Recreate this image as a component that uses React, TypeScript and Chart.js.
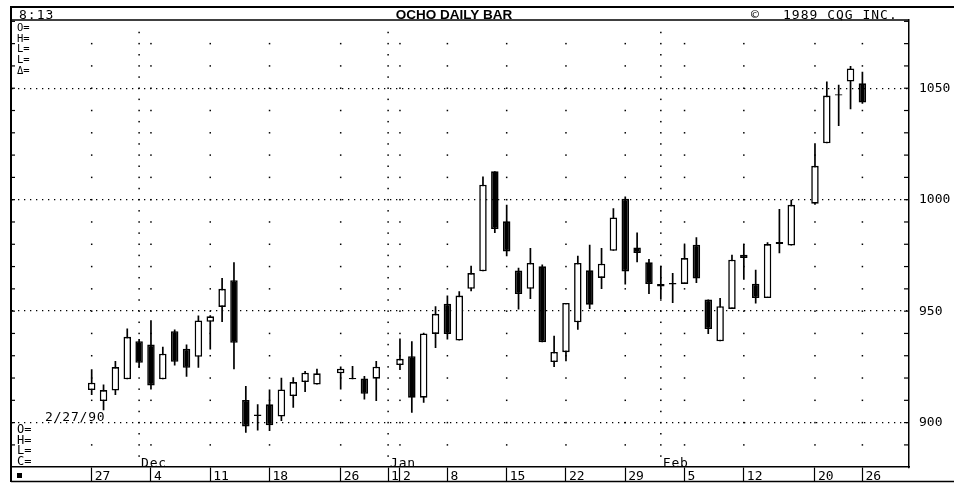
import React, { useEffect, useRef } from 'react';
import { Chart, registerables } from 'chart.js';
Chart.register(...registerables);

// trading-day slot index (0 = Nov 27; holidays 20, 25, 60 are empty slots)
const dayIndex = [0,1,2,3,4,5,6,7,8,9,10,11,12,13,14,15,16,17,18,19,21,22,23,24,26,27,28,29,30,31,32,33,34,35,36,37,38,39,40,41,42,43,44,45,46,47,48,49,50,51,52,53,54,55,56,57,58,59,61,62,63,64,65];
const openVals = [914.6,909.7,914.4,919.4,936.5,935.0,919.4,941.0,933.1,929.5,945.2,951.9,963.9,910.1,903.0,908.2,902.7,911.9,918.2,917.1,922.1,920.0,919.8,919.7,925.8,929.8,911.2,939.8,953.3,936.8,960.0,967.9,1012.7,990.3,968.2,960.0,970.1,927.2,931.6,945.0,968.3,964.9,977.1,1000.4,978.6,971.9,962.2,962.6,962.2,979.8,955.2,936.5,951.0,975.3,962.3,955.9,980.1,979.4,998.2,1025.3,1047.3,1053.0,1052.2];
const highVals = [923.9,917.1,927.6,942.2,937.5,945.9,934.0,941.8,935.0,948.0,948.2,964.9,971.9,916.4,908.2,914.9,920.1,920.4,923.1,924.2,925.2,925.4,920.9,927.6,937.7,936.5,940.3,952.2,957.0,958.9,970.4,1010.4,1012.7,997.7,969.5,978.3,970.9,939.0,953.7,974.9,979.8,978.3,996.2,1001.4,985.3,973.4,970.4,967.1,979.8,983.2,955.2,955.9,975.3,980.1,968.6,980.9,995.8,1000.0,1025.3,1053.0,1051.5,1060.0,1057.4];
const lowVals = [912.4,905.6,912.4,919.4,924.6,914.9,919.4,925.6,920.6,924.6,932.8,945.1,923.9,895.5,896.5,896.2,900.7,906.7,913.7,917.1,914.9,919.4,910.4,909.7,923.6,904.4,908.9,933.5,937.3,936.8,958.9,967.9,985.1,974.6,950.7,955.5,936.1,924.9,927.5,941.7,951.0,959.9,977.1,961.9,971.9,957.7,955.5,953.7,962.2,962.6,939.8,936.5,951.0,964.1,953.4,955.9,976.0,979.4,997.7,1025.3,1033.1,1040.6,1043.0];
const closeVals = [917.9,914.6,924.9,938.5,926.8,916.7,930.9,927.3,924.6,945.8,947.7,960.0,935.8,898.3,903.6,898.8,914.9,918.2,922.4,922.1,924.2,919.4,912.9,925.1,928.6,911.2,940.0,948.8,939.8,957.0,967.1,1006.7,986.8,976.8,957.7,971.6,936.1,931.7,953.7,971.6,952.9,971.3,992.0,967.8,976.1,962.2,961.1,962.0,973.8,964.6,942.0,952.2,973.1,973.8,955.9,980.1,981.0,997.7,1015.2,1046.7,1046.7,1058.9,1043.6];

const dateTickIndex = [0,5,10,15,21,25,26,30,35,40,45,50,55,61,65];
const dateTickLabels = ['27','4','11','18','26','1','2','8','15','22','29','5','12','20','26'];
const weekColumnIndex = [0,5,10,15,21,26,30,35,40,45,50,55,61,65];
const monthIndex = [4,25,48];
const monthLabels = ['Dec','Jan','Feb'];
const priceLabels = [900,950,1000,1050];
const topLegend = ['O=','H=','L=','L=','Δ='];
const bottomLegend = ['O=','H=','L=','C='];

const MONO = "'DejaVu Sans Mono', monospace";

const decor = {
  id: 'decor',
  beforeDatasetsDraw(chart: any) {
    const { ctx, chartArea: ca, scales: { x, y } } = chart;
    ctx.save();
    ctx.fillStyle = '#000';
    for (const i of weekColumnIndex) {
      const px = x.getPixelForValue(i);
      for (let v = 890; v <= 1080; v += 10) {
        const py = y.getPixelForValue(v);
        if (py < ca.top + 3) continue;
        ctx.fillRect(px - 0.75, py - 0.75, 1.5, 1.5);
      }
    }
    for (const i of monthIndex) {
      const px = x.getPixelForValue(i);
      for (let v = 885; v <= 1080; v += 5) {
        const py = y.getPixelForValue(v);
        if (py < ca.top + 3) continue;
        ctx.fillRect(px - 0.75, py - 0.75, 1.5, 1.5);
      }
    }
    ctx.restore();
  },
  afterDraw(chart: any) {
    const { ctx, chartArea: ca, scales: { x, y } } = chart;
    const W = chart.width;
    ctx.save();
    ctx.strokeStyle = '#000';
    ctx.fillStyle = '#000';
    const line = (x1: number, y1: number, x2: number, y2: number, w: number) => {
      ctx.lineWidth = w;
      ctx.beginPath();
      ctx.moveTo(x1, y1);
      ctx.lineTo(x2, y2);
      ctx.stroke();
    };
    line(10, 7, W, 7, 2);
    line(11, ca.top, ca.right, ca.top, 1.5);
    line(11, 7, 11, 482, 2);
    line(11, 481.5, W, 481.5, 1.5);
    for (let v = 890; v <= 1080; v += 10) {
      const py = y.getPixelForValue(v);
      line(ca.right - 5, py, ca.right, py, 1.2);
      line(12, py, 15, py, 1.2);
    }
    // header texts
    ctx.textBaseline = 'alphabetic';
    ctx.textAlign = 'left';
    ctx.font = `13px ${MONO}`;
    (ctx as any).letterSpacing = '1px';
    ctx.fillText('8:13', 19, 19);
    ctx.fillText('©', 751, 19);
    ctx.fillText('1989 CQG INC.', 783, 19);
    (ctx as any).letterSpacing = '0px';
    ctx.font = "bold 13.5px 'Liberation Sans', Arial, sans-serif";
    ctx.textAlign = 'center';
    ctx.fillText('OCHO DAILY BAR', 454, 18.5);
    // legends
    ctx.textAlign = 'left';
    ctx.textBaseline = 'middle';
    ctx.font = `10.5px ${MONO}`;
    topLegend.forEach((t, i) => ctx.fillText(t, 17, 28 + i * 10.8));
    ctx.font = `12px ${MONO}`;
    bottomLegend.forEach((t, i) => ctx.fillText(t, 17, 430 + i * 10.5));
    ctx.font = `13px ${MONO}`;
    (ctx as any).letterSpacing = '0.8px';
    ctx.fillText('2/27/90', 45, 418);
    ctx.textBaseline = 'alphabetic';
    monthIndex.forEach((m, i) => ctx.fillText(monthLabels[i], x.getPixelForValue(m) + 2, 466.5));
    (ctx as any).letterSpacing = '0px';
    ctx.fillRect(17, 473, 5, 5);
    ctx.restore();
  },
};

export default function App() {
  const ref = useRef<HTMLCanvasElement>(null);
  useEffect(() => {
    if (!ref.current) return;
    const bodyData = dayIndex.map((d, i) => ({ x: d, y: [openVals[i], closeVals[i]] }));
    const wickData = dayIndex.map((d, i) => ({ x: d, y: [lowVals[i], highVals[i]] }));
    const bodyColors = dayIndex.map((_, i) => (closeVals[i] >= openVals[i] ? '#ffffff' : '#000000'));
    const chart = new Chart(ref.current, {
      type: 'bar',
      data: {
        datasets: [
          {
            data: bodyData as any,
            backgroundColor: bodyColors,
            borderColor: '#000',
            borderWidth: 1.6,
            borderSkipped: false,
            barThickness: 7.5,
            grouped: false,
            inflateAmount: 0,
          } as any,
          {
            data: wickData as any,
            backgroundColor: '#000',
            borderWidth: 0,
            barThickness: 1.7,
            grouped: false,
            inflateAmount: 0,
          } as any,
        ],
      },
      options: {
        responsive: false,
        animation: false,
        events: [],
        layout: { padding: { left: 12, top: 20, right: 0, bottom: 0 } },
        plugins: { legend: { display: false }, tooltip: { enabled: false }, title: { display: false } },
        scales: {
          x: {
            type: 'linear',
            position: 'bottom',
            min: -6.72,
            max: 68.93,
            offset: false,
            afterBuildTicks: (s: any) => {
              s.ticks = dateTickIndex.map((v) => ({ value: v }));
            },
            afterFit: (s: any) => {
              s.height = 17;
            },
            ticks: {
              autoSkip: false,
              maxRotation: 0,
              minRotation: 0,
              align: 'start',
              labelOffset: 3,
              padding: -12,
              color: '#000',
              font: { family: MONO, size: 13 },
              callback: (_v: any, i: number) => dateTickLabels[i],
            },
            grid: {
              drawOnChartArea: false,
              drawTicks: true,
              tickLength: 14,
              tickColor: '#000',
              tickWidth: 1.2,
              offset: false,
            },
            border: { display: true, color: '#000', width: 1.5 },
          } as any,
          y: {
            type: 'linear',
            position: 'right',
            min: 880,
            max: 1080.6,
            afterFit: (s: any) => {
              s.width = 45;
            },
            ticks: {
              stepSize: 10,
              autoSkip: false,
              padding: 10,
              color: '#000',
              font: { family: MONO, size: 13 },
              callback: (v: any) => (priceLabels.includes(Number(v)) ? String(v) : ''),
            },
            grid: {
              drawTicks: false,
              lineWidth: 1.3,
              color: (c: any) => (c.tick && priceLabels.includes(c.tick.value) ? '#000' : 'rgba(0,0,0,0)'),
            },
            border: { display: true, color: '#000', width: 1.5, dash: [1.3, 4.7] },
          } as any,
        },
      },
      plugins: [decor],
    });
    return () => chart.destroy();
  }, []);
  return (
    <div style={{ position: 'fixed', left: 0, top: 0, width: 954, height: 485, background: '#fff' }}>
      <canvas ref={ref} width={954} height={485} style={{ display: 'block', width: 954, height: 485 }} />
    </div>
  );
}
